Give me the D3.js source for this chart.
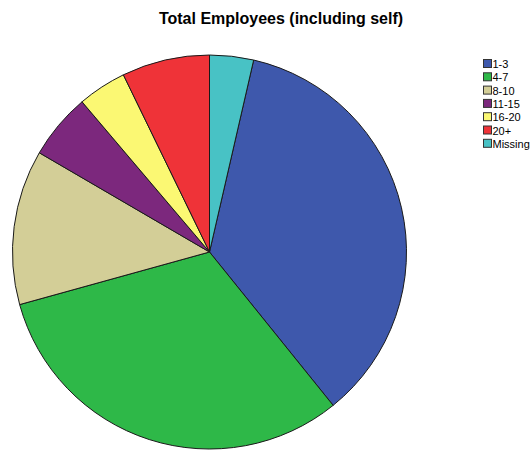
<!DOCTYPE html>
<html>
<head>
<meta charset="utf-8">
<script src="https://cdn.jsdelivr.net/npm/d3@7"></script>
<style>
  html, body { margin: 0; padding: 0; background: #ffffff; }
  svg { display: block; }
</style>
</head>
<body>
<svg id="chart" width="532" height="451"></svg>
<script>
// Share of respondents (%) by total employees, including self
const categories = ["1-3", "4-7", "8-10", "11-15", "16-20", "20+", "Missing"];
const shares = [35.6, 31.5, 12.7, 5.4, 4.0, 7.2, 3.6];
const colors = ["#3e58ac", "#2eb848", "#d3ce97", "#7c287d", "#fbf873", "#ef3338", "#48c2c5"];
const title = "Total Employees (including self)";

const svg = d3.select("#chart");
const cx = 209.5, cy = 252, radius = 197;

const rows = categories.map((c, i) => ({ label: c, value: shares[i], color: colors[i] }));
const total = d3.sum(shares);

// Slices run clockwise; the "Missing" slice closes the circle at 12 o'clock
const offset = 2 * Math.PI * shares[shares.length - 1] / total;
const pie = d3.pie()
  .sort(null)
  .value(d => d.value)
  .startAngle(offset)
  .endAngle(offset + 2 * Math.PI);

const arc = d3.arc().innerRadius(0).outerRadius(radius);

svg.append("g")
  .attr("transform", `translate(${cx},${cy})`)
  .selectAll("path")
  .data(pie(rows))
  .join("path")
  .attr("d", arc)
  .attr("fill", d => d.data.color)
  .attr("stroke", "#1a1a1a")
  .attr("stroke-width", 1)
  .attr("stroke-linejoin", "round");

// Title
svg.append("text")
  .attr("x", 281)
  .attr("y", 24)
  .attr("text-anchor", "middle")
  .attr("font-family", "'Liberation Sans', Arial, sans-serif")
  .attr("font-weight", "bold")
  .attr("font-size", 16)
  .attr("fill", "#000")
  .text(title);

// Legend
const legend = svg.append("g").attr("transform", "translate(483.5,59.5)");
const item = legend.selectAll("g")
  .data(rows)
  .join("g")
  .attr("transform", (d, i) => `translate(0,${i * 13.3})`);

item.append("rect")
  .attr("width", 8)
  .attr("height", 8)
  .attr("fill", d => d.color)
  .attr("stroke", "#333")
  .attr("stroke-width", 1);

item.append("text")
  .attr("x", 9)
  .attr("y", 8.5)
  .attr("font-family", "'Liberation Sans', Arial, sans-serif")
  .attr("font-size", 11)
  .attr("fill", "#000")
  .text(d => d.label);
</script>
</body>
</html>
